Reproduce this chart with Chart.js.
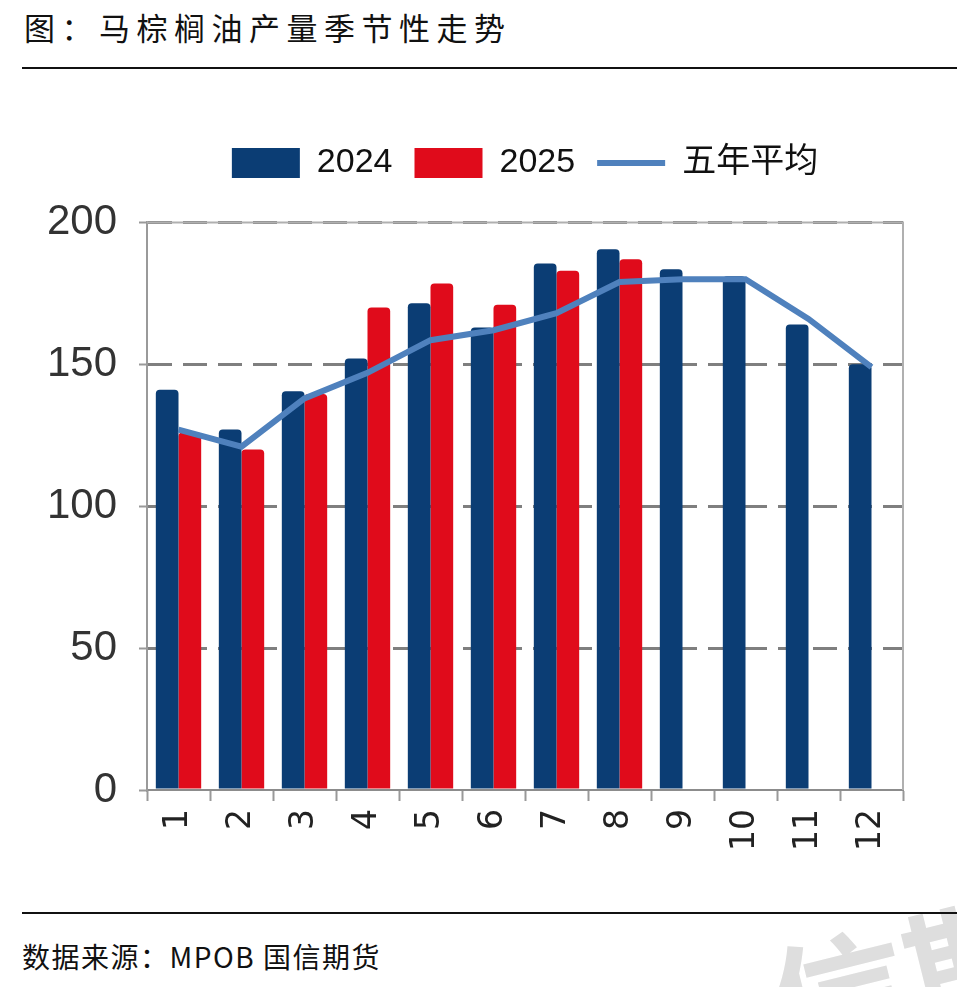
<!DOCTYPE html>
<html>
<head>
<meta charset="utf-8">
<script src="https://cdn.jsdelivr.net/npm/chart.js@4/dist/chart.umd.min.js"></script>
<style>
  html, body { margin: 0; padding: 0; background: #fff; }
  body { width: 957px; height: 987px; position: relative; overflow: hidden; }
  .title { position: absolute; left: 24px; top: 4px; font: 31px "Noto Sans CJK SC", sans-serif; letter-spacing: 6.5px; color: #111; }
  .rule { position: absolute; left: 22px; right: 0; height: 2px; background: #111; }
  .source { position: absolute; left: 22px; top: 936px; font: 28px "Noto Sans CJK SC", sans-serif; letter-spacing: 1.5px; color: #111; }
  .mark { position: absolute; left: 745px; top: 912px; font: bold 140px "Noto Sans CJK SC", sans-serif; color: #dedede; transform: rotate(-14deg); transform-origin: left top; white-space: nowrap; }
  #wrap { position: absolute; left: 0; top: 80px; width: 957px; height: 820px; }
</style>
</head>
<body>
<div class="mark">信期货</div>
<div class="title">图：马棕榈油产量季节性走势</div>
<div class="rule" style="top:67px"></div>
<div id="wrap"><canvas id="seasonChart"></canvas></div>
<div class="rule" style="top:912px"></div>
<div class="source">数据来源：MPOB 国信期货</div>
<script>
let months = ['1', '2', '3', '4', '5', '6', '7', '8', '9', '10', '11', '12'];
let seriesNames = ['2024', '2025', '五年平均'];
let prod2024 = [141, 127, 140.5, 152, 171.5, 163, 185.5, 190.5, 183.5, 181, 164, 150];
let prod2025 = [126, 120, 139.5, 170, 178.5, 171, 183, 187, null, null, null, null];
let avg5y = [127, 121, 138, 147, 158.5, 162, 168, 179, 180, 180, 166, 149];
let yTicks = [0, 50, 100, 150, 200];

let axisFont = { family: '"Liberation Sans Narrow", "Liberation Sans", "Noto Sans CJK SC", sans-serif', size: 42 };
let legendFont = { family: '"Liberation Sans", "Noto Sans CJK SC", sans-serif', size: 34 };

// frame round the plot area (top and right edges)
let plotFrame = {
    id: 'plotFrame',
    beforeDatasetsDraw(chart) {
        let a = chart.chartArea, c = chart.ctx;
        c.save();
        c.strokeStyle = '#b0b0b0';
        c.lineWidth = 2;
        c.beginPath();
        c.moveTo(a.left, a.top);
        c.lineTo(a.right, a.top);
        c.lineTo(a.right, a.bottom);
        c.stroke();
        c.restore();
    }
};

let ctx = document.getElementById('seasonChart').getContext('2d');
let seasonChart = new Chart(ctx, {
    type: 'bar',
    data: {
        labels: months,
        datasets: [{
            label: seriesNames[0],
            data: prod2024,
            backgroundColor: '#0b3d74',
            borderRadius: { topLeft: 4, topRight: 4 },
            borderSkipped: 'bottom',
            order: 1
        }, {
            label: seriesNames[1],
            data: prod2025,
            backgroundColor: '#e00b1b',
            borderRadius: { topLeft: 4, topRight: 4 },
            borderSkipped: 'bottom',
            order: 2
        }, {
            type: 'line',
            label: seriesNames[2],
            data: avg5y,
            borderColor: '#4f81bd',
            backgroundColor: '#4f81bd',
            borderWidth: 6,
            pointRadius: 0,
            tension: 0,
            order: 0
        }]
    },
    options: {
        responsive: true,
        maintainAspectRatio: false,
        animation: false,
        layout: { padding: { left: 0, right: 54, top: 44, bottom: 0 } },
        datasets: { bar: { categoryPercentage: 0.72, barPercentage: 1 } },
        plugins: {
            tooltip: { enabled: false },
            // blank title used only as a spacer between legend and plot
            title: { display: true, text: ' ', weight: 500, font: { size: 2 }, padding: { top: 0, bottom: 30 } },
            legend: {
                position: 'top',
                weight: 3000,
                fullSize: false,
                labels: {
                    font: legendFont,
                    color: '#111',
                    usePointStyle: true,
                    pointStyleWidth: 68,
                    boxHeight: 30,
                    padding: 22,
                    sort: (a, b) => a.datasetIndex - b.datasetIndex,
                    generateLabels: (chart) => {
                        let items = Chart.defaults.plugins.legend.labels.generateLabels(chart);
                        items.forEach((it) => {
                            let ds = chart.data.datasets[it.datasetIndex];
                            if (ds.type === 'line') {
                                it.pointStyle = 'line';
                                it.lineWidth = 6;
                                it.strokeStyle = ds.borderColor;
                            } else {
                                it.pointStyle = 'rect';
                                it.lineWidth = 0;
                                it.fillStyle = ds.backgroundColor;
                            }
                        });
                        return items;
                    }
                }
            }
        },
        scales: {
            x: {
                offset: true,
                afterFit: (scale) => { scale.height = 110; },
                grid: {
                    offset: true,
                    drawOnChartArea: false,
                    drawTicks: true,
                    tickLength: 11,
                    tickColor: '#999',
                    tickWidth: 2,
                    color: '#999'
                },
                border: { display: true, color: '#8c8c8c', width: 2 },
                ticks: {
                    minRotation: 90,
                    maxRotation: 90,
                    autoSkip: false,
                    padding: 8,
                    color: '#222',
                    font: { family: '"DejaVu Sans", sans-serif', size: 33 }
                }
            },
            y: {
                min: 0,
                max: 200,
                afterFit: (scale) => { scale.width = 147; },
                afterBuildTicks: (scale) => { scale.ticks = yTicks.map((v) => ({ value: v })); },
                grid: {
                    color: (c) => (c.tick && c.tick.value === 0 ? 'rgba(0,0,0,0)' : '#7f7f7f'),
                    lineWidth: 3,
                    drawTicks: true,
                    tickLength: 8,
                    tickColor: '#999',
                    tickWidth: 2,
                    tickBorderDash: []
                },
                border: { display: true, color: '#9a9a9a', width: 2, dash: [24, 11] },
                ticks: {
                    padding: 22,
                    color: '#333',
                    font: axisFont
                }
            }
        }
    },
    plugins: [plotFrame]
});
</script>
</body>
</html>
